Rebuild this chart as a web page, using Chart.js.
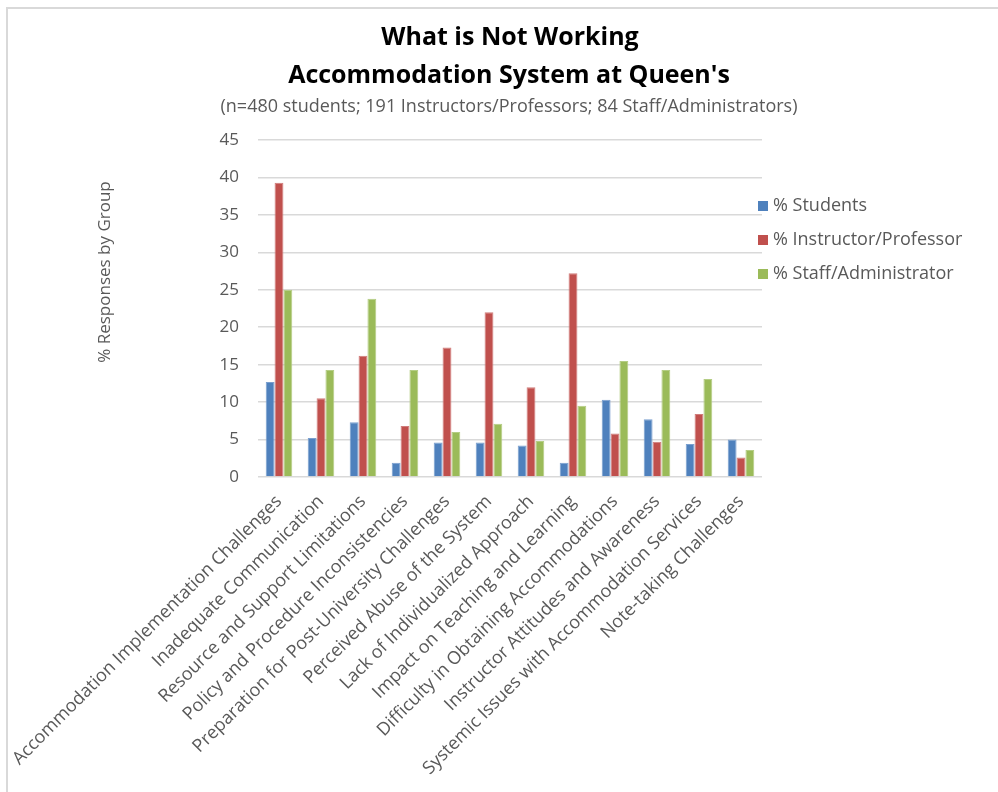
<!DOCTYPE html>
<html><head><meta charset="utf-8">
<script src="https://cdn.jsdelivr.net/npm/chart.js@4.4.0/dist/chart.umd.min.js"></script>
<style>html,body{margin:0;padding:0;background:#fff}#wrap{width:998px;height:792px;position:relative}</style>
</head><body><div id="wrap"><canvas id="c" width="998" height="792"></canvas></div>
<script>
const categories = [
  'Accommodation Implementation Challenges',
  'Inadequate Communication',
  'Resource and Support Limitations',
  'Policy and Procedure Inconsistencies',
  'Preparation for Post-University Challenges',
  'Perceived Abuse of the System',
  'Lack of Individualized Approach',
  'Impact on Teaching and Learning',
  'Difficulty in Obtaining Accommodations',
  'Instructor Attitudes and Awareness',
  'Systemic Issues with Accommodation Services',
  'Note-taking Challenges'
];
const students    = [12.7, 5.2, 7.3, 1.9, 4.6, 4.6, 4.2, 1.9, 10.3, 7.7, 4.4, 5.0];
const instructors = [39.3, 10.5, 16.2, 6.8, 17.3, 22.0, 12.0, 27.2, 5.8, 4.7, 8.4, 2.6];
const staff       = [25.0, 14.3, 23.8, 14.3, 6.0, 7.1, 4.8, 9.5, 15.5, 14.3, 13.1, 3.6];
const seriesLabels = ['% Students', '% Instructor/Professor', '% Staff/Administrator'];
const yTicks = [0, 5, 10, 15, 20, 25, 30, 35, 40, 45];
const titleLines = ['What is Not Working', "Accommodation System at Queen's"];
const subtitleText = '(n=480 students; 191 Instructors/Professors; 84 Staff/Administrators)';
const yAxisTitle = '% Responses by Group';

const FONT = "'Open Sans', 'Liberation Sans', sans-serif";
const TXT = '#595959';
const colors = ['#4F81BD', '#C0504D', '#9BBB59'];
const borders = ['#7A9FCF', '#D07C7A', '#B4CD84'];

const decor = {
  id: 'decor',
  beforeDraw(chart) {
    const ctx = chart.ctx;
    ctx.save();
    ctx.strokeStyle = '#d9d9d9';
    ctx.lineWidth = 2;
    ctx.strokeRect(7, 8, 1100, 900);
    ctx.restore();
  },
  afterDraw(chart) {
    const ctx = chart.ctx;
    ctx.save();
    ctx.textAlign = 'center';
    ctx.textBaseline = 'middle';
    ctx.fillStyle = '#000';
    ctx.font = "bold 25px " + FONT;
    ctx.fillText(titleLines[0], 510, 38);
    ctx.fillText(titleLines[1], 509, 76);
    ctx.fillStyle = TXT;
    ctx.font = "18px " + FONT;
    ctx.fillText(subtitleText, 509, 107);
    // y axis title
    ctx.save();
    ctx.translate(105, 272);
    ctx.rotate(-Math.PI / 2);
    ctx.font = "17px " + FONT;
    ctx.fillText(yAxisTitle, 0, 0);
    ctx.restore();
    // legend
    ctx.textAlign = 'left';
    ctx.font = "18px " + FONT;
    const ys = [206, 240, 274];
    chart.data.datasets.forEach((ds, i) => {
      ctx.fillStyle = ds.backgroundColor;
      ctx.fillRect(758, ys[i] - 5, 10, 10);
      ctx.fillStyle = TXT;
      ctx.fillText(ds.label, 773, ys[i]);
    });
    ctx.restore();
  }
};

new Chart(document.getElementById('c'), {
  type: 'bar',
  data: {
    labels: categories,
    datasets: [
      { label: seriesLabels[0], data: students, backgroundColor: colors[0], borderColor: borders[0], borderWidth: 1 },
      { label: seriesLabels[1], data: instructors, backgroundColor: colors[1], borderColor: borders[1], borderWidth: 1 },
      { label: seriesLabels[2], data: staff, backgroundColor: colors[2], borderColor: borders[2], borderWidth: 1 }
    ]
  },
  options: {
    responsive: false,
    animation: false,
    devicePixelRatio: 1,
    layout: { padding: { left: 88, right: 236, top: 140, bottom: 0 } },
    datasets: { bar: { categoryPercentage: 0.633, barPercentage: 1.0 } },
    plugins: { legend: { display: false }, title: { display: false }, tooltip: { enabled: false } },
    scales: {
      x: {
        grid: { display: false, drawTicks: false },
        border: { display: false },
        ticks: { minRotation: 45, maxRotation: 45, autoSkip: false, padding: 14, color: TXT, font: { family: FONT, size: 18 } },
        afterFit(scale) { scale.height = 792 - 477; scale.paddingLeft = 0; scale.paddingRight = 0; }
      },
      y: {
        min: 0, max: 45,
        afterBuildTicks(scale) { scale.ticks = yTicks.map(v => ({ value: v })); },
        grid: { color: '#d9d9d9', lineWidth: 1.5, drawTicks: false },
        border: { display: false },
        ticks: { padding: 19, color: TXT, font: { family: FONT, size: 17 } },
        afterFit(scale) { scale.width = 258 - 88; scale.paddingTop = 0; scale.paddingBottom = 0; }
      }
    }
  },
  plugins: [decor]
});
</script></body></html>
